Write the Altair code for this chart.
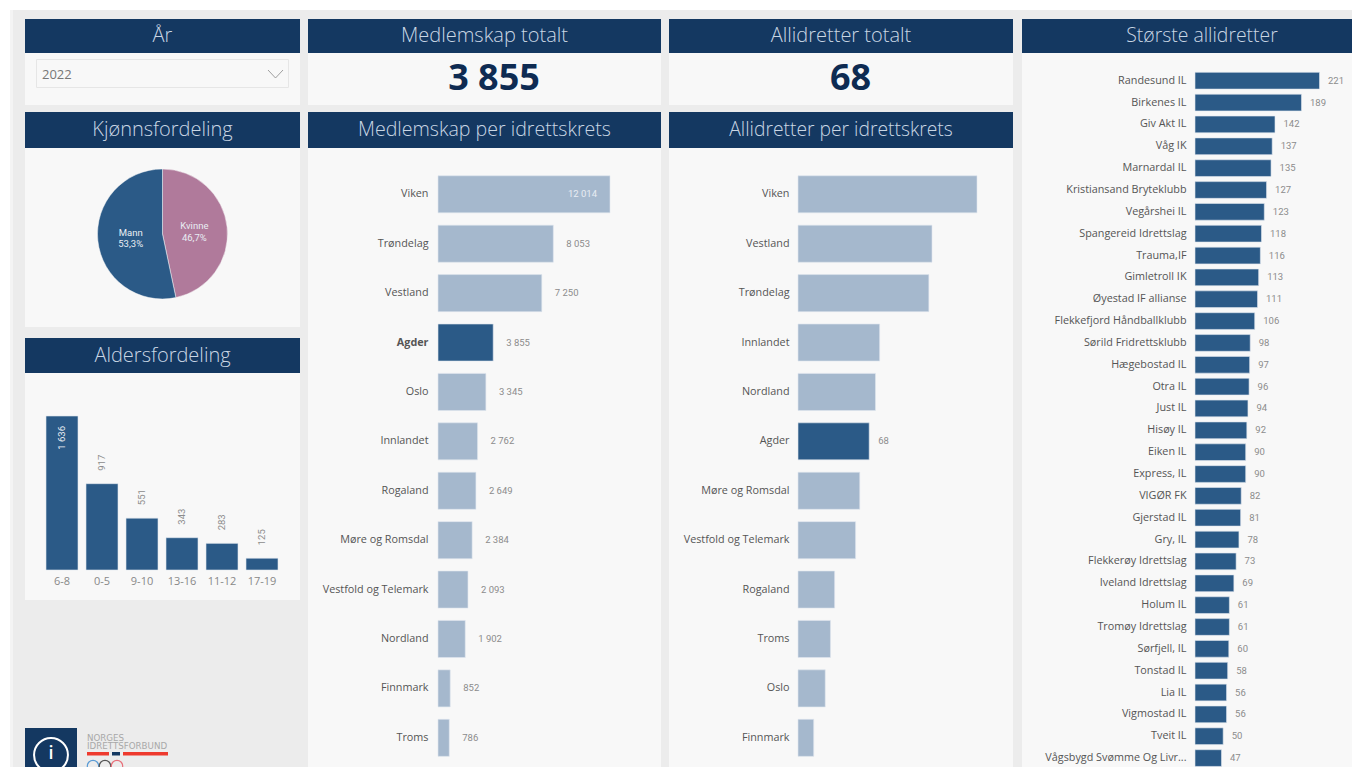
import altair as alt
import pandas as pd

# ---------- data ----------
REGIONS_M = ["Viken", "Trøndelag", "Vestland", "Agder", "Oslo", "Innlandet", "Rogaland",
             "Møre og Romsdal", "Vestfold og Telemark", "Nordland", "Finnmark", "Troms"]
VALUES_M = [12014, 8053, 7250, 3855, 3345, 2762, 2649, 2384, 2093, 1902, 852, 786]

REGIONS_A = ["Viken", "Vestland", "Trøndelag", "Innlandet", "Nordland", "Agder",
             "Møre og Romsdal", "Vestfold og Telemark", "Rogaland", "Troms", "Oslo", "Finnmark"]
VALUES_A = [171, 128, 125, 78, 74, 68, 59, 55, 35, 31, 26, 15]

CLUBS = ["Randesund IL", "Birkenes IL", "Giv Akt IL", "Våg IK", "Marnardal IL",
         "Kristiansand Bryteklubb", "Vegårshei IL", "Spangereid Idrettslag", "Trauma,IF",
         "Gimletroll IK", "Øyestad IF allianse", "Flekkefjord Håndballklubb",
         "Sørild Fridrettsklubb", "Hægebostad IL", "Otra IL", "Just IL", "Hisøy IL", "Eiken IL",
         "Express, IL", "VIGØR FK", "Gjerstad IL", "Gry, IL", "Flekkerøy Idrettslag",
         "Iveland Idrettslag", "Holum IL", "Tromøy Idrettslag", "Sørfjell, IL", "Tonstad IL",
         "Lia IL", "Vigmostad IL", "Tveit IL", "Vågsbygd Svømme Og Livr..."]
CLUB_VALUES = [221, 189, 142, 137, 135, 127, 123, 118, 116, 113, 111, 106, 98, 97, 96, 94, 92,
               90, 90, 82, 81, 78, 73, 69, 61, 61, 60, 58, 56, 56, 50, 47]

AGE_GROUPS = ["6-8", "0-5", "9-10", "13-16", "11-12", "17-19"]
AGE_VALUES = [1636, 917, 551, 343, 283, 125]

GENDERS = ["Kvinne", "Mann"]
GENDER_VALUES = [46.7, 53.3]
GENDER_LABELS = ["Kvinne\n46,7%", "Mann\n53,3%"]

# ---------- style ----------
NAVY = "#143861"
HEAD_TEXT = "#c9d6e4"
PANEL = "#f8f8f8"
PAGE = "#ececec"
DARK = "#2b5a87"
LIGHT = "#a5b8cd"
ROSE = "#b07a9b"
LABEL_FONT = "Open Sans"
DATA_FONT = "Roboto"
AXIS_COLOR = "#555555"
DATA_COLOR = "#8c8c8c"


def fmt(v):
    return f"{v:,}".replace(",", " ")


def spacer(w, h, fill=None):
    c = alt.Chart(pd.DataFrame({"a": [0]})).mark_rect(opacity=0).encode(
        x=alt.value(0), x2=alt.value(w), y=alt.value(0), y2=alt.value(h))
    if fill:
        return c.properties(width=w, height=h, view=alt.ViewConfig(fill=fill))
    return c.properties(width=w, height=h)


def header(title, w, h, size=20, dx=0):
    return (
        alt.Chart(pd.DataFrame({"t": [title]}))
        .mark_text(font=LABEL_FONT, fontWeight=300, fontSize=size, color=HEAD_TEXT, baseline="middle", align="center", dx=dx)
        .encode(text="t:N")
        .properties(width=w, height=h, view=alt.ViewConfig(fill=NAVY))
    )


def big_number(text, w, h):
    return (
        alt.Chart(pd.DataFrame({"t": [text]}))
        .mark_text(font=LABEL_FONT, fontWeight=700, fontSize=36, color="#0e2b52", baseline="middle", align="center", dx=9.5)
        .encode(text="t:N")
        .properties(width=w, height=h, view=alt.ViewConfig(fill=PANEL))
    )


def hbar(cats, vals, w, h, xrange, yrange, xmax, offset, inner=0.25, show=None, inside=None,
         size=10.8, bold_cat=None, all_dark=False, label_dx=13):
    df = pd.DataFrame({"cat": cats, "val": vals, "label": [fmt(v) for v in vals]})
    bold = f"datum.value=='{bold_cat}'?'bold':'normal'"
    y = alt.Y("cat:N", sort=cats, title=None,
              scale=alt.Scale(domain=cats, range=yrange, paddingInner=inner, paddingOuter=inner / 2),
              axis=alt.Axis(domain=False, ticks=False, grid=False, offset=offset, labelPadding=0,
                            labelFont=LABEL_FONT, labelFontSize=size, labelColor=AXIS_COLOR, labelLimit=220,
                            labelFontWeight=alt.expr(bold)))
    x = alt.X("val:Q", axis=None, scale=alt.Scale(domain=[0, xmax], range=xrange, nice=False, zero=True))
    base = alt.Chart(df).encode(y=y, x=x)
    if all_dark:
        bars = base.mark_bar(stroke="#dfe6ee", strokeWidth=0.6, color=DARK, clip=True)
    else:
        bars = base.mark_bar(stroke="#dfe6ee", strokeWidth=0.6, clip=True).encode(
            color=alt.condition(alt.datum.cat == "Agder", alt.value(DARK), alt.value(LIGHT)))
    outside = base.mark_text(font=DATA_FONT, fontSize=9.5, color=DATA_COLOR, align="left", dx=label_dx, baseline="middle").encode(text="label:N")
    if inside:
        outside = outside.transform_filter(alt.datum.cat != inside)
    if show:
        outside = outside.transform_filter(alt.datum.cat == show)
    layers = [bars, outside]
    if inside:
        layers.append(
            base.transform_filter(alt.datum.cat == inside)
            .mark_text(font=DATA_FONT, fontSize=9.5, color="#e8edf3", align="right", dx=-13, baseline="middle")
            .encode(text="label:N"))
    return alt.layer(*layers).properties(width=w, height=h, view=alt.ViewConfig(fill=PANEL))


def dropdown(w, h):
    box = alt.Chart(pd.DataFrame({"a": [0]})).mark_rect(fill=PANEL, stroke="#e6e6e6", strokeWidth=1).encode(
        x=alt.value(11.5), x2=alt.value(263.5), y=alt.value(6.5), y2=alt.value(34.5))
    txt = alt.Chart(pd.DataFrame({"t": ["2022"]})).mark_text(
        font=LABEL_FONT, fontSize=13, color="#777777", align="left", baseline="middle").encode(
        text="t:N", x=alt.value(17), y=alt.value(22))
    c1 = alt.Chart(pd.DataFrame({"a": [0]})).mark_rule(color="#888888", strokeWidth=0.8).encode(
        x=alt.value(243), x2=alt.value(250.5), y=alt.value(17), y2=alt.value(25))
    c2 = alt.Chart(pd.DataFrame({"a": [0]})).mark_rule(color="#888888", strokeWidth=0.8).encode(
        x=alt.value(250.5), x2=alt.value(258), y=alt.value(25), y2=alt.value(17))
    return alt.layer(box, txt, c1, c2).properties(width=w, height=h, view=alt.ViewConfig(fill=PANEL))


def pie(w, h):
    df = pd.DataFrame({"g": GENDERS, "v": GENDER_VALUES, "label": GENDER_LABELS, "o": [0, 1]})
    base = alt.Chart(df).encode(theta=alt.Theta("v:Q", stack=True), order=alt.Order("o:O"), y=alt.value(86))
    arcs = base.mark_arc(outerRadius=65, stroke="#f8f8f8", strokeWidth=0.5).encode(
        color=alt.Color("g:N", legend=None, scale=alt.Scale(domain=GENDERS, range=[ROSE, DARK])))
    txt = base.mark_text(radius=32, lineBreak="\n", font=DATA_FONT, fontSize=9.5, color="#e8edf3",
                         lineHeight=11.5, baseline="middle", dy=-4.5).encode(text="label:N")
    return alt.layer(arcs, txt).properties(width=w, height=h, view=alt.ViewConfig(fill=PANEL))


def age(w, h):
    df = pd.DataFrame({"a": AGE_GROUPS, "v": AGE_VALUES, "label": [fmt(v) for v in AGE_VALUES]})
    base = alt.Chart(df).encode(
        x=alt.X("a:N", sort=AGE_GROUPS, title=None,
                scale=alt.Scale(domain=AGE_GROUPS, range=[17, 257], paddingInner=0.2, paddingOuter=0.1),
                axis=alt.Axis(domain=False, ticks=False, grid=False, labelAngle=0, offset=-30, labelPadding=5,
                              labelFont=LABEL_FONT, labelFontSize=11, labelColor="#888888")),
        y=alt.Y("v:Q", axis=None, scale=alt.Scale(domain=[0, 1636], range=[197, 43], nice=False)),
    )
    bars = base.mark_bar(color=DARK, stroke="#dfe6ee", strokeWidth=0.6)
    out = base.transform_filter(alt.datum.a != "6-8").mark_text(
        angle=270, align="left", baseline="middle", dx=13, font=DATA_FONT, fontSize=9.5, color=DATA_COLOR).encode(text="label:N")
    ins = base.transform_filter(alt.datum.a == "6-8").mark_text(
        angle=270, align="right", baseline="middle", dx=-10, font=DATA_FONT, fontSize=9.5, color="#e8edf3").encode(text="label:N")
    return alt.layer(bars, out, ins).properties(width=w, height=h, view=alt.ViewConfig(fill=PANEL))


def logo(w, h):
    one = pd.DataFrame({"a": [0]})
    layers = [
        alt.Chart(one).mark_rect(color=NAVY).encode(x=alt.value(0), x2=alt.value(52), y=alt.value(0), y2=alt.value(h)),
        alt.Chart(one).mark_point(filled=False, color="white", strokeWidth=2, size=1150, clip=True, opacity=1).encode(x=alt.value(26), y=alt.value(27)),
        alt.Chart(pd.DataFrame({"t": ["i"]})).mark_text(font=LABEL_FONT, fontSize=18, color="white", fontWeight=600, baseline="middle").encode(text="t:N", x=alt.value(26), y=alt.value(26)),
        alt.Chart(pd.DataFrame({"t": ["NORGES\nIDRETTSFORBUND"]})).mark_text(font="DejaVu Sans", fontSize=8.7, color="#a8a8a8", align="left", baseline="top", lineBreak="\n", lineHeight=8).encode(text="t:N", x=alt.value(62), y=alt.value(5.5)),
        alt.Chart(one).mark_rect(color="#ee3a2e").encode(x=alt.value(62), x2=alt.value(84), y=alt.value(24), y2=alt.value(27.5)),
        alt.Chart(one).mark_rect(color=NAVY).encode(x=alt.value(87), x2=alt.value(95), y=alt.value(24), y2=alt.value(27.5)),
        alt.Chart(one).mark_rect(color="#ee3a2e").encode(x=alt.value(98), x2=alt.value(143), y=alt.value(24), y2=alt.value(27.5)),
    ]
    for cx, col in [(68, "#5a9bd5"), (80, "#555555"), (92, "#e8707a")]:
        layers.append(alt.Chart(one).mark_point(filled=False, color=col, strokeWidth=1.2, size=130, opacity=1, clip=True).encode(x=alt.value(cx), y=alt.value(38)))
    return alt.layer(*layers).properties(width=w, height=h)


col1 = alt.vconcat(
    spacer(275, 9),
    header("År", 275, 34), dropdown(275, 52), spacer(275, 7),
    header("Kjønnsfordeling", 275, 36), pie(275, 179), spacer(275, 11),
    header("Aldersfordeling", 275, 35), age(275, 227), spacer(275, 128),
    logo(275, 39), spacing=0)

col2 = alt.vconcat(
    spacer(353, 9),
    header("Medlemskap totalt", 353, 34), big_number("3 855", 353, 52), spacer(353, 7),
    header("Medlemskap per idrettskrets", 353, 36, size=19.6),
    hbar(REGIONS_M, VALUES_M, 353, 619, [130, 302], [21.6, 614.5], 12014, -120, inside="Viken", bold_cat="Agder"),
    spacing=0)

col3 = alt.vconcat(
    spacer(344, 9),
    header("Allidretter totalt", 344, 34), big_number("68", 344, 52), spacer(344, 7),
    header("Allidretter per idrettskrets", 344, 36, size=19.3),
    hbar(REGIONS_A, VALUES_A, 344, 619, [129, 308], [21.6, 614.5], 171, -120, show="Agder", label_dx=9),
    spacing=0)

col4 = alt.vconcat(
    spacer(330, 9),
    header("Største allidretter", 330, 34, size=19.4, dx=15),
    hbar(CLUBS, CLUB_VALUES, 330, 714, [173, 297.5], [16.8, 716], 221, -164, inner=0.235, all_dark=True, label_dx=8.5),
    spacing=0)

row = alt.hconcat(
    spacer(2, 757, "white"), spacer(3, 757, "#f4f4f4"), spacer(12, 757),
    col1, spacer(8, 757), col2, spacer(8, 757), col3, spacer(9, 757), col4, spacing=0)

chart = alt.vconcat(spacer(1344, 2, "white"), row, spacing=0).properties(
    background=PAGE, padding=0
).configure_view(strokeWidth=0)

chart.save("out.html", embed_options={"renderer": "svg", "actions": False})
